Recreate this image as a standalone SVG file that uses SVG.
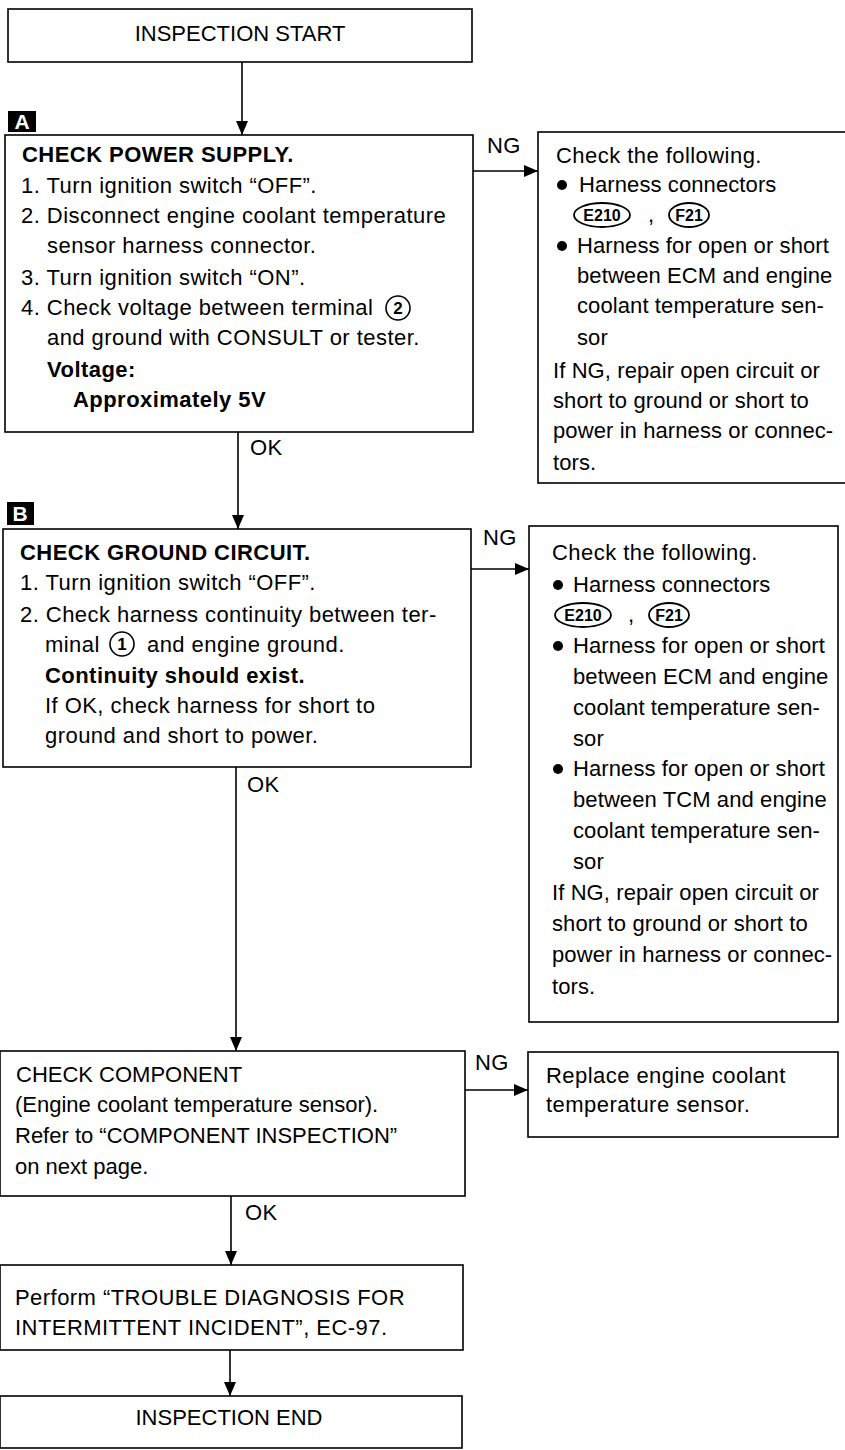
<svg xmlns="http://www.w3.org/2000/svg" width="845" height="1450" viewBox="0 0 845 1450">
<defs>
<style>
.box{fill:#fff;stroke:#000;stroke-width:1.6}
.t{font-family:"Liberation Sans",Arial,Helvetica,sans-serif;font-size:22px;fill:#000;letter-spacing:0.45px}
.r{letter-spacing:0.1px}
.n{letter-spacing:0}
.b{font-weight:bold}
.c{text-anchor:middle}
.ln{stroke:#000;stroke-width:1.6;fill:none;marker-end:url(#arr)}
.mk{fill:#000}
.mt{font-family:"Liberation Sans",Arial,sans-serif;font-size:21px;font-weight:bold;fill:#fff;text-anchor:middle}
.ov{fill:#fff;stroke:#000;stroke-width:1.8}
.ot{font-family:"Liberation Sans Narrow","Liberation Sans",Arial,sans-serif;font-size:16px;font-weight:bold;fill:#000;text-anchor:middle}
.cn{font-family:"Liberation Sans",Arial,sans-serif;font-size:17px;font-weight:bold;fill:#000;text-anchor:middle}
</style>
<marker id="arr" markerUnits="userSpaceOnUse" markerWidth="14" markerHeight="12" refX="14" refY="6" orient="auto">
<path d="M0,0 L14,6 L0,12 Z" fill="#000"/>
</marker>
</defs>

<g id="connectors">
<line class="ln" x1="242" y1="62" x2="242" y2="135"/>
<line class="ln" x1="473" y1="171" x2="538" y2="171"/>
<text class="t" x="487" y="153">NG</text>
<line class="ln" x1="238" y1="432" x2="238" y2="529"/>
<text class="t" x="250" y="455">OK</text>
<line class="ln" x1="471" y1="569" x2="529" y2="569"/>
<text class="t" x="483" y="545">NG</text>
<line class="ln" x1="236" y1="767" x2="236" y2="1051"/>
<text class="t" x="247" y="792">OK</text>
<line class="ln" x1="465" y1="1090" x2="528" y2="1090"/>
<text class="t" x="475" y="1070">NG</text>
<line class="ln" x1="231" y1="1196" x2="231" y2="1265"/>
<text class="t" x="245" y="1220">OK</text>
<line class="ln" x1="230" y1="1350" x2="230" y2="1396"/>
</g>

<g id="start">
<rect class="box" x="8" y="9" width="464" height="53"/>
<text class="t n c" x="240" y="41">INSPECTION START</text>
</g>

<g id="markerA">
<rect class="mk" x="8" y="111" width="28" height="21"/>
<text class="mt" x="22" y="129">A</text>
</g>

<g id="checkPower">
<rect class="box" x="5" y="135" width="468" height="297"/>
<text class="t b" x="22" y="162">CHECK POWER SUPPLY.</text>
<text class="t" x="21" y="193">1. Turn ignition switch “OFF”.</text>
<text class="t" x="21" y="223">2. Disconnect engine coolant temperature</text>
<text class="t" x="47" y="253">sensor harness connector.</text>
<text class="t" x="21" y="285">3. Turn ignition switch “ON”.</text>
<text class="t" x="21" y="315">4. Check voltage between terminal</text>
<circle cx="398" cy="308" r="12" fill="none" stroke="#000" stroke-width="1.6"/>
<text class="cn" x="398" y="314">2</text>
<text class="t" x="47" y="345">and ground with CONSULT or tester.</text>
<text class="t b" x="47" y="377">Voltage:</text>
<text class="t b" x="73" y="407">Approximately 5V</text>
</g>

<g id="ngPower">
<rect class="box" x="538" y="132" width="330" height="351"/>
<text class="t" x="556" y="163">Check the following.</text>
<circle cx="562" cy="185" r="5"/>
<text class="t r" x="579" y="192">Harness connectors</text>
<ellipse class="ov" cx="602" cy="215" rx="28" ry="12"/>
<text class="ot" x="602" y="221">E210</text>
<text class="t" x="648" y="222">,</text>
<ellipse class="ov" cx="689" cy="215" rx="20" ry="12"/>
<text class="ot" x="689" y="221">F21</text>
<circle cx="562" cy="246" r="5"/>
<text class="t r" x="577" y="253">Harness for open or short</text>
<text class="t r" x="577" y="283">between ECM and engine</text>
<text class="t r" x="577" y="313">coolant temperature sen-</text>
<text class="t r" x="577" y="345">sor</text>
<text class="t r" x="553" y="378">If NG, repair open circuit or</text>
<text class="t r" x="553" y="408">short to ground or short to</text>
<text class="t r" x="553" y="438">power in harness or connec-</text>
<text class="t r" x="553" y="470">tors.</text>
</g>

<g id="markerB">
<rect class="mk" x="7" y="502" width="27" height="23"/>
<text class="mt" x="20" y="521">B</text>
</g>

<g id="checkGround">
<rect class="box" x="3" y="529" width="468" height="238"/>
<text class="t b" x="20" y="560">CHECK GROUND CIRCUIT.</text>
<text class="t" x="20" y="590">1. Turn ignition switch “OFF”.</text>
<text class="t" x="20" y="622">2. Check harness continuity between ter-</text>
<text class="t" x="45" y="652">minal</text>
<circle cx="122" cy="644" r="12" fill="none" stroke="#000" stroke-width="1.6"/>
<text class="cn" x="122" y="650">1</text>
<text class="t" x="147" y="652">and engine ground.</text>
<text class="t b" x="45" y="683">Continuity should exist.</text>
<text class="t" x="45" y="713">If OK, check harness for short to</text>
<text class="t" x="45" y="743">ground and short to power.</text>
</g>

<g id="ngGround">
<rect class="box" x="529" y="526" width="309" height="496"/>
<text class="t" x="552" y="560">Check the following.</text>
<circle cx="558" cy="585" r="5"/>
<text class="t r" x="573" y="592">Harness connectors</text>
<ellipse class="ov" cx="583" cy="615" rx="28" ry="12"/>
<text class="ot" x="583" y="621">E210</text>
<text class="t" x="628" y="622">,</text>
<ellipse class="ov" cx="669" cy="615" rx="20" ry="12"/>
<text class="ot" x="669" y="621">F21</text>
<circle cx="558" cy="646" r="5"/>
<text class="t r" x="573" y="653">Harness for open or short</text>
<text class="t r" x="573" y="684">between ECM and engine</text>
<text class="t r" x="573" y="715">coolant temperature sen-</text>
<text class="t r" x="573" y="746">sor</text>
<circle cx="558" cy="769" r="5"/>
<text class="t r" x="573" y="776">Harness for open or short</text>
<text class="t r" x="573" y="807">between TCM and engine</text>
<text class="t r" x="573" y="838">coolant temperature sen-</text>
<text class="t r" x="573" y="869">sor</text>
<text class="t r" x="552" y="900">If NG, repair open circuit or</text>
<text class="t r" x="552" y="931">short to ground or short to</text>
<text class="t r" x="552" y="962">power in harness or connec-</text>
<text class="t r" x="552" y="994">tors.</text>
</g>

<g id="checkComponent">
<rect class="box" x="0" y="1051" width="465" height="145"/>
<text class="t n" x="16" y="1082">CHECK COMPONENT</text>
<text class="t n" x="15" y="1112">(Engine coolant temperature sensor).</text>
<text class="t n" x="15" y="1143">Refer to “COMPONENT INSPECTION”</text>
<text class="t n" x="15" y="1174">on next page.</text>
</g>

<g id="replace">
<rect class="box" x="528" y="1052" width="310" height="85"/>
<text class="t" x="546" y="1083">Replace engine coolant</text>
<text class="t" x="546" y="1112">temperature sensor.</text>
</g>

<g id="perform">
<rect class="box" x="0" y="1265" width="463" height="85"/>
<text class="t" x="15" y="1305">Perform “TROUBLE DIAGNOSIS FOR</text>
<text class="t" x="15" y="1335">INTERMITTENT INCIDENT”, EC-97.</text>
</g>

<g id="end">
<rect class="box" x="0" y="1396" width="462" height="52"/>
<text class="t n c" x="229" y="1425">INSPECTION END</text>
</g>
</svg>
